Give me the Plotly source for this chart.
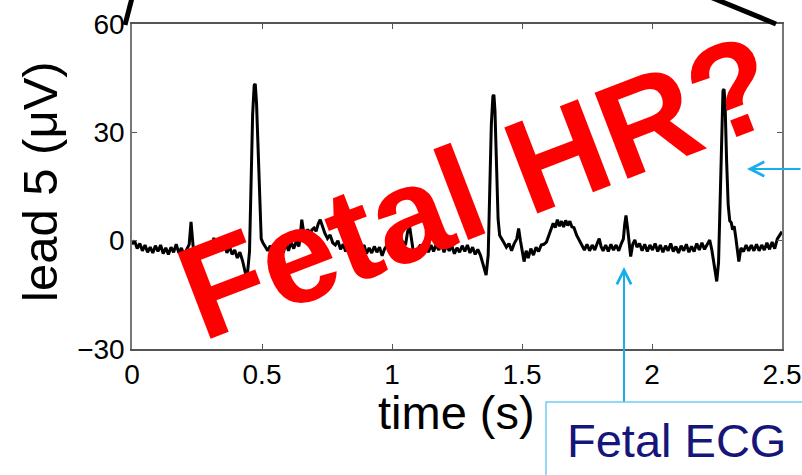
import plotly.graph_objects as go

# ---- data ----
time_s = [
    0.000, 0.010, 0.020, 0.030, 0.040, 0.050, 0.060, 0.070, 0.080, 0.090,
    0.100, 0.110, 0.120, 0.130, 0.140, 0.150, 0.160, 0.170, 0.180, 0.190,
    0.200, 0.210, 0.220, 0.227, 0.235, 0.245, 0.255, 0.265, 0.275, 0.285,
    0.295, 0.305, 0.315, 0.325, 0.335, 0.345, 0.355, 0.365, 0.375, 0.385,
    0.395, 0.405, 0.415, 0.425, 0.435, 0.442, 0.452, 0.458, 0.464, 0.470,
    0.474, 0.479, 0.485, 0.491, 0.497, 0.503, 0.512, 0.522, 0.532, 0.542,
    0.552, 0.562, 0.572, 0.582, 0.592, 0.602, 0.612, 0.622, 0.632, 0.642,
    0.648, 0.653, 0.660, 0.668, 0.676, 0.684, 0.692, 0.700, 0.708, 0.716,
    0.724, 0.732, 0.742, 0.752, 0.762, 0.772, 0.782, 0.792, 0.802, 0.812,
    0.822, 0.832, 0.842, 0.852, 0.862, 0.872, 0.882, 0.892, 0.902, 0.912,
    0.922, 0.932, 0.942, 0.952, 0.962, 0.972, 0.982, 0.992, 1.002, 1.012,
    1.022, 1.032, 1.042, 1.052, 1.060, 1.068, 1.074, 1.082, 1.090, 1.100,
    1.110, 1.120, 1.130, 1.140, 1.150, 1.160, 1.170, 1.180, 1.190, 1.200,
    1.210, 1.220, 1.230, 1.240, 1.250, 1.260, 1.270, 1.280, 1.290, 1.300,
    1.310, 1.320, 1.330, 1.340, 1.350, 1.362, 1.370, 1.376, 1.382, 1.388,
    1.392, 1.396, 1.402, 1.408, 1.414, 1.422, 1.430, 1.440, 1.450, 1.460,
    1.470, 1.480, 1.487, 1.494, 1.502, 1.508, 1.516, 1.524, 1.534, 1.544,
    1.554, 1.564, 1.574, 1.584, 1.594, 1.604, 1.612, 1.620, 1.628, 1.636,
    1.644, 1.652, 1.660, 1.668, 1.676, 1.684, 1.692, 1.700, 1.710, 1.720,
    1.730, 1.740, 1.750, 1.760, 1.770, 1.780, 1.790, 1.797, 1.804, 1.812,
    1.822, 1.832, 1.842, 1.852, 1.862, 1.872, 1.882, 1.890, 1.895, 1.900,
    1.906, 1.912, 1.918, 1.926, 1.934, 1.942, 1.952, 1.962, 1.972, 1.982,
    1.992, 2.002, 2.012, 2.022, 2.032, 2.042, 2.052, 2.062, 2.072, 2.082,
    2.092, 2.102, 2.112, 2.122, 2.132, 2.142, 2.152, 2.162, 2.172, 2.182,
    2.192, 2.202, 2.212, 2.222, 2.230, 2.238, 2.249, 2.256, 2.262, 2.268,
    2.273, 2.277, 2.281, 2.287, 2.293, 2.299, 2.305, 2.310, 2.316, 2.322,
    2.328, 2.334, 2.342, 2.352, 2.362, 2.372, 2.382, 2.392, 2.402, 2.412,
    2.422, 2.432, 2.442, 2.452, 2.462, 2.472, 2.482, 2.492, 2.500,
]
lead5_uV = [
    -1.0, 0.0, -2.2, -0.8, -2.8, -1.2, -3.2, -1.8, -3.4, -1.4,
    -3.0, -1.2, -3.6, -2.0, -3.8, -1.8, -3.2, -1.0, -3.4, -2.0,
    -4.0, -2.4, -1.0, 5.2, -1.5, -4.2, -2.2, -4.6, -1.6, -3.8,
    -0.6, -3.0, 0.8, -2.2, -0.2, -2.8, -0.8, -3.4, -1.6, -3.8,
    -2.6, -4.8, -3.2, -5.5, -8.5, -10.8, -3.0, 15.0, 35.0, 43.0,
    43.4, 38.0, 25.0, 8.0, 0.5, -0.5, -1.8, -2.8, -1.4, -3.6,
    -2.2, -4.4, -2.0, -3.4, -0.6, -2.8, -0.4, -2.2, -0.2, -1.6,
    2.0, 5.8, 2.5, 1.2, 3.2, 1.4, 3.0, 3.5, 2.6, 4.6,
    5.8, 3.8, 2.0, 0.6, 1.6, -0.6, -1.2, 0.0, -2.4, -1.0,
    -3.0, -1.2, -3.4, -1.8, -3.2, -1.4, -2.8, -1.2, -3.6, -2.0,
    -3.4, -1.6, -3.2, -1.8, -4.2, -2.2, -1.2, -3.4, -2.0, -4.4,
    -3.0, -1.4, -0.4, -1.2, 2.5, 3.8, 1.0, -3.0, -4.5, -2.2,
    -1.2, -3.4, -1.6, -3.2, -1.2, -3.0, -1.0, -2.6, -0.8, -3.2,
    -1.2, -2.8, -1.4, -3.6, -2.0, -3.2, -1.4, -3.0, -1.2, -3.4,
    -1.8, -3.8, -2.4, -4.0, -6.5, -9.5, -4.0, 12.0, 32.0, 40.0,
    40.4, 36.0, 20.0, 6.0, 1.5, 0.3, -0.5, -1.8, -0.8, -2.8,
    -0.8, 0.5, 3.4, 0.0, -4.0, -5.8, -2.8, -4.8, -2.2, -4.0,
    -1.8, -3.0, -1.2, -1.0, -0.4, 1.5, 3.5, 4.8, 3.6, 5.8,
    4.0, 5.4, 3.8, 5.6, 4.2, 5.4, 3.8, 3.6, 1.5, 0.2,
    -1.0, -2.6, -1.0, -2.8, -1.2, -2.6, -0.6, 0.6, -1.6, -2.8,
    -1.2, -3.0, -1.0, -2.6, -1.2, -2.8, -0.8, 0.5, 4.5, 7.0,
    3.5, -1.5, -4.4, -1.0, 0.2, -1.8, -0.8, -2.8, -1.0, -3.0,
    -1.2, -2.6, -0.8, -3.0, -1.2, -3.2, -1.4, -2.8, -0.8, -3.0,
    -1.6, -3.4, -1.4, -2.8, -1.0, -3.2, -1.6, -3.0, -0.8, -2.6,
    -0.6, -2.4, -1.0, 0.2, -2.5, -6.5, -11.3, -6.0, 10.0, 32.0,
    41.5, 42.0, 38.0, 22.0, 10.0, 5.5, 5.0, 3.0, 4.0, 1.0,
    -3.0, -5.8, -2.0, -3.0, -1.2, -2.8, -1.2, -2.8, -1.0, -2.8,
    -1.2, -2.6, -0.6, -2.4, -0.4, -2.2, 0.5, 1.5, 2.5,
]

x_tickvals = [0, 0.5, 1, 1.5, 2, 2.5]
x_ticktext = ["0", "0.5", "1", "1.5", "2", "2.5"]
y_tickvals = [-30, 0, 30, 60]
y_ticktext = ["\u221230", "0", "30", "60"]

x_title = "time (s)"
y_title = "lead 5 (\u03bcV)"
overlay_text = "Fetal HR?"
box_text = "Fetal ECG"

FONT = "Liberation Sans, Arial, Helvetica, sans-serif"
BLUE = "#1AADEB"

fig = go.Figure()
fig.add_trace(go.Scatter(
    x=time_s, y=lead5_uV, mode="lines",
    line=dict(color="black", width=3),
    hoverinfo="skip", showlegend=False,
))

W, H = 802, 475
L, R, T, B = 132, 20, 24, 126
pw, ph = W - L - R, H - T - B


def px(xp):
    return (xp - L) / pw


def py(yp):
    return (H - B - yp) / ph


fig.update_layout(
    width=W, height=H,
    margin=dict(l=L, r=R, t=T, b=B, pad=0, autoexpand=False),
    paper_bgcolor="white", plot_bgcolor="white",
    font=dict(family=FONT, color="black"),
    xaxis=dict(
        range=[0, 2.5], tickvals=x_tickvals, ticktext=x_ticktext,
        ticks="inside", ticklen=5, tickcolor="#555", tickwidth=1,
        showline=True, linecolor="#555", linewidth=1.5, mirror="ticks",
        showgrid=False, zeroline=False, automargin=False,
        tickfont=dict(size=28, family=FONT, color="black"),
    ),
    yaxis=dict(
        range=[-30, 60], tickvals=y_tickvals, ticktext=y_ticktext,
        ticks="inside", ticklen=5, tickcolor="#555", tickwidth=1,
        showline=True, linecolor="#777", linewidth=1.5, mirror="ticks",
        showgrid=False, zeroline=False, automargin=False,
        tickfont=dict(size=28, family=FONT, color="black"),
    ),
)

annotations = [
    dict(text=x_title, xref="paper", yref="paper", x=px(456), y=py(412),
         xanchor="center", yanchor="middle", showarrow=False,
         font=dict(size=47, family=FONT, color="black")),
    dict(text=y_title, xref="paper", yref="paper", x=px(40), y=py(182),
         xanchor="center", yanchor="middle", showarrow=False, textangle=-90,
         font=dict(size=49, family=FONT, color="black")),
    # arrows
    dict(text="", xref="paper", yref="paper", x=px(747), y=py(169),
         ax=70, ay=0, showarrow=True, arrowhead=5, arrowwidth=2,
         arrowsize=1.4, arrowcolor=BLUE),
    dict(text="", xref="paper", yref="paper", x=px(624), y=py(267),
         ax=0, ay=136, showarrow=True, arrowhead=5, arrowwidth=2,
         arrowsize=1.4, arrowcolor=BLUE),
    dict(text=box_text, xref="paper", yref="paper", x=px(676), y=py(440),
         xanchor="center", yanchor="middle", showarrow=False,
         font=dict(size=47, family=FONT, color="#16167A")),
    dict(text="<b>" + overlay_text + "</b>", xref="paper", yref="paper",
         x=px(478), y=py(187), xanchor="center", yanchor="middle",
         showarrow=False, textangle=-21,
         font=dict(size=134, family=FONT, color="#FF0000")),
]
fig.update_layout(annotations=annotations)

shapes = [
    dict(type="rect", xref="paper", yref="paper",
         x0=px(546), x1=px(830), y0=py(402), y1=py(500),
         line=dict(color="#6FCDF3", width=1.5), fillcolor="rgba(0,0,0,0)"),
    dict(type="line", xref="paper", yref="paper",
         x0=px(125), y0=py(25), x1=px(133), y1=py(-6),
         line=dict(color="black", width=5)),
    dict(type="line", xref="paper", yref="paper",
         x0=px(703), y0=py(-6), x1=px(776), y1=py(24),
         line=dict(color="black", width=5)),
]
fig.update_layout(shapes=shapes)

fig.write_html(
    "out.html",
    config={"displayModeBar": False},
    post_script="document.body.style.margin='0px';"
                "document.body.style.padding='0px';"
                "document.documentElement.style.margin='0px';",
)
